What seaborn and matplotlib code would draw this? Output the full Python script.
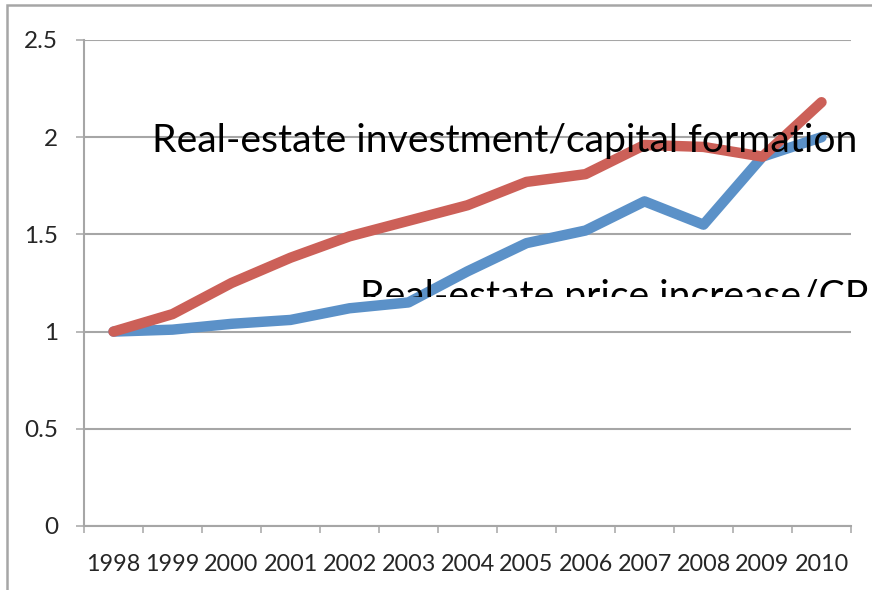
import matplotlib
matplotlib.use("Agg")
import matplotlib.pyplot as plt
from matplotlib.patches import Rectangle
from matplotlib.transforms import Bbox, TransformedBbox
import seaborn as sns
import pandas as pd

years = ["1998", "1999", "2000", "2001", "2002", "2003", "2004",
         "2005", "2006", "2007", "2008", "2009", "2010"]
price_cpi = [1.00, 1.01, 1.04, 1.06, 1.12, 1.15, 1.31, 1.455, 1.52, 1.67, 1.55, 1.90, 2.00]
invest_capital = [1.00, 1.09, 1.25, 1.38, 1.49, 1.57, 1.65, 1.77, 1.81, 1.96, 1.95, 1.90, 2.18]
series_names = ["Real-estate price increase/CPI", "Real-estate investment/capital formation"]
y_ticks = [0, 0.5, 1, 1.5, 2, 2.5]
y_tick_labels = ["0", "0.5", "1", "1.5", "2", "2.5"]

df = pd.DataFrame({
    "year": years * 2,
    "value": price_cpi + invest_capital,
    "series": [series_names[0]] * len(years) + [series_names[1]] * len(years),
})

sns.set_style("white")
plt.rcParams["font.family"] = ["Lato", "DejaVu Sans"]

grey = "#A6A6A6"
fig = plt.figure(figsize=(8.72, 5.90), dpi=100)
ax = fig.add_axes([84 / 872, 1 - 526 / 590, 767 / 872, 486 / 590])

sns.lineplot(data=df, x="year", y="value", hue="series", sort=False,
             palette={series_names[0]: "#5B91C8", series_names[1]: "#CC6058"},
             linewidth=7.5, legend=False, ax=ax)
for line in ax.lines:
    line.set_solid_capstyle("round")
    line.set_solid_joinstyle("round")

ax.set_xlim(-0.5, len(years) - 0.5)
ax.set_ylim(0, 2.5)
ax.set_yticks(y_ticks)
ax.set_yticklabels(y_tick_labels)
ax.set_xticks(range(len(years)))
ax.set_xticklabels(years)
ax.set_xticks([i - 0.5 for i in range(len(years) + 1)], minor=True)
ax.set_xlabel("")
ax.set_ylabel("")

ax.grid(axis="y", color=grey, linewidth=1.5)
ax.set_axisbelow(True)
for side in ["top", "right"]:
    ax.spines[side].set_visible(False)
for side in ["left", "bottom"]:
    ax.spines[side].set_color(grey)
    ax.spines[side].set_linewidth(1.5)

ax.tick_params(axis="y", which="major", length=5.8, width=1.1, color=grey,
               labelsize=17.5, pad=13, left=True)
ax.tick_params(axis="x", which="major", length=0, labelsize=16.8, pad=20)
ax.tick_params(axis="x", which="minor", length=5.2, width=1.1, color=grey,
               bottom=True)

# chart labels written straight on the plot (the lower one is cut off in the original too)
fig.text(152 / 872, 1 - 152 / 590, series_names[1], fontsize=28.2,
         va="baseline", ha="left", color="black")
t = fig.text(360 / 872, 1 - 308 / 590, series_names[0], fontsize=28.2,
             va="baseline", ha="left", color="black")
t.set_clip_on(True)
t.set_clip_box(TransformedBbox(Bbox.from_extents(0, 1 - 297 / 590, 1, 1),
                               fig.transFigure))

# outer chart border
fig.patches.append(Rectangle((7 / 872, -0.1), 1.2, 1.1 - 5 / 590,
                             transform=fig.transFigure, fill=False,
                             edgecolor=grey, linewidth=1.8))

fig.savefig("out.png", dpi=100)
